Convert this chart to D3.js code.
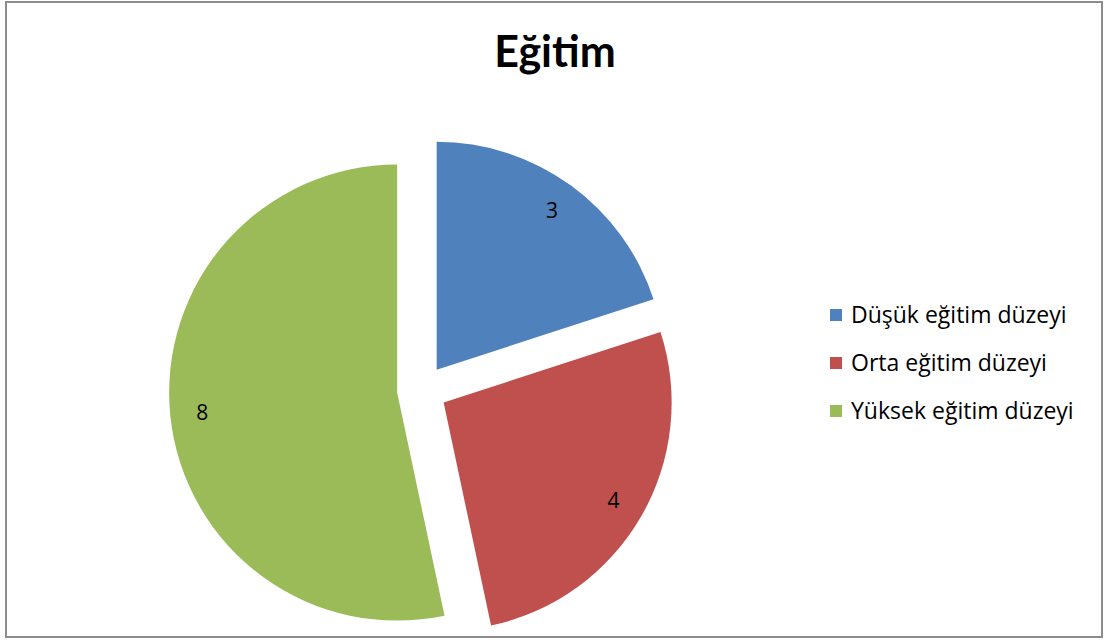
<!DOCTYPE html>
<html>
<head>
  <meta charset="utf-8">
  <script src="https://d3js.org/d3.v7.min.js"></script>
  <style>
    body { margin: 0; background: #fff; }
    svg text { font-family: "Open Sans", Lato, sans-serif; fill: #000; }
  </style>
</head>
<body>
  <div id="chart"></div>
  <script>
    // chart data
    var categories = ['Düşük eğitim düzeyi', 'Orta eğitim düzeyi', 'Yüksek eğitim düzeyi'];
    var values = [3, 4, 8];
    var colors = ['#4f81bd', '#c0504d', '#9bbb59'];
    var title = 'Eğitim';

    var width = 1115,
      height = 642;

    var svg = d3.select('#chart')
      .append('svg')
      .attr('width', width)
      .attr('height', height);

    // outer frame
    svg.append('rect')
      .attr('x', 6)
      .attr('y', 2)
      .attr('width', 1096)
      .attr('height', 635)
      .attr('fill', 'none')
      .attr('stroke', '#8c8c8c')
      .attr('stroke-width', 2);

    svg.append('text')
      .attr('x', 555)
      .attr('y', 67)
      .attr('text-anchor', 'middle')
      .style('font-family', 'Lato, sans-serif')
      .style('font-size', '43px')
      .style('font-weight', 'bold')
      .text(title);

    var data = categories.map(function(c, i) {
      return { name: c, value: values[i], color: colors[i] };
    });

    var cx = 422,
      cy = 390,
      radius = 228,
      explode = 25;

    var pie = d3.pie()
      .sort(null)
      .value(function(d) { return d.value; });

    var arc = d3.arc()
      .innerRadius(0)
      .outerRadius(radius);

    var slices = svg.append('g')
      .attr('transform', 'translate(' + cx + ',' + cy + ')')
      .selectAll('g')
      .data(pie(data))
      .enter()
      .append('g')
      .attr('transform', function(d) {
        var a = (d.startAngle + d.endAngle) / 2;
        return 'translate(' + (Math.sin(a) * explode) + ',' + (-Math.cos(a) * explode) + ')';
      });

    slices.append('path')
      .attr('d', arc)
      .attr('fill', function(d) { return d.data.color; });

    // value labels sit at ~86% of the radius
    slices.append('text')
      .attr('x', function(d) {
        var a = (d.startAngle + d.endAngle) / 2;
        return Math.sin(a) * radius * 0.86;
      })
      .attr('y', function(d) {
        var a = (d.startAngle + d.endAngle) / 2;
        return -Math.cos(a) * radius * 0.86;
      })
      .attr('dy', '0.35em')
      .attr('text-anchor', 'middle')
      .style('font-size', '21px')
      .text(function(d) { return d.data.value; });

    var legend = svg.append('g')
      .attr('transform', 'translate(830,315)')
      .selectAll('g')
      .data(data)
      .enter()
      .append('g')
      .attr('transform', function(d, i) { return 'translate(0,' + (i * 48) + ')'; });

    legend.append('rect')
      .attr('x', 0)
      .attr('y', -6)
      .attr('width', 12)
      .attr('height', 12)
      .attr('fill', function(d) { return d.color; });

    legend.append('text')
      .attr('x', 21)
      .attr('dy', '0.35em')
      .style('font-size', '23px')
      .text(function(d) { return d.name; });
  </script>
</body>
</html>
